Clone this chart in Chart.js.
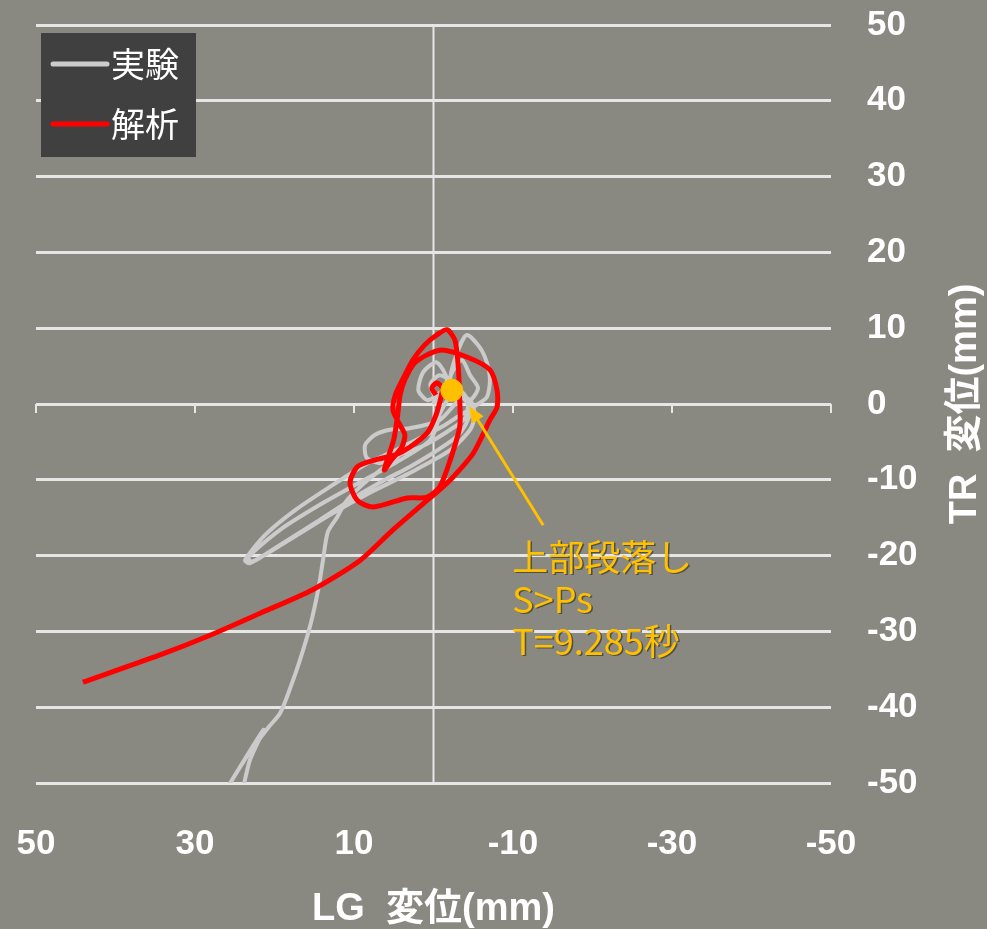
<!DOCTYPE html>
<html>
<head>
<meta charset="utf-8">
<script src="https://cdn.jsdelivr.net/npm/chart.js@4/dist/chart.umd.min.js"></script>
<style>
  html, body { margin: 0; padding: 0; background: #8a8981; }
  #wrap { width: 987px; height: 929px; }
</style>
</head>
<body>
<div id="wrap"><canvas id="chart"></canvas></div>
<script>
// LG / TR displacement orbit (mm), experiment vs analysis
const expX = [0.1, -0.8, -1.7, -0.4, 1.3, 1.9, 0.7, -1.4, -2.5, -3.6,
  -4.6, -5.6, -4.6, -3.1, -2.1, -3.1, -4.2, -5.8, -6.7, -7.1,
  -6.7, -5.0, -3.3, -1.4, 1.7, 4.8, 8.6, 13.0, 17.4, 21.2,
  23.7, 23.1, 19.3, 14.3, 9.9, 6.1, 3.0, -0.2, -2.7, -4.0,
  -4.6, -3.6, -0.8, 3.0, 5.5, 7.4, 8.6, 8.4, 6.7, 4.2,
  1.1, -2.1, -4.0, -4.3, -2.7, -0.8, 0.4, -0.8, 0.4, 4.2,
  9.2, 14.3, 19.3, 23.3, 22.8, 18.1, 13.0, 8.0, 3.0, -2.1,
  -4.6, -5.2, -4.6, -2.3, -1.4, 0.4, 4.2, 8.0, 9.9, 11.1,
  12.1, 13.3, 13.9, 14.5, 15.5, 16.8, 18.1, 19.3, 20.8, 23.1,
  26.1, 21.4, 23.1, 24.0];
const expY = [0, 1.2, 3.2, 5.5, 4.2, 1.8, 0.5, 2.1, 4.5, 5.8,
  3.8, 2.1, 0.5, 1.2, 3.2, 7.1, 9.1, 7.5, 5.5, 3.2,
  0.9, -0.4, -1.5, -2.8, -4.5, -6.1, -8.0, -10.9, -14.0, -17.3,
  -20.6, -21.0, -18.6, -15.3, -12.3, -10.0, -8.3, -6.3, -4.5, -2.8,
  -0.8, 0.8, -2.1, -3.2, -3.4, -4.1, -5.4, -7.1, -7.8, -6.7,
  -5.4, -3.4, -1.8, 0.5, 2.5, 3.8, 2.5, -0.8, -4.7, -7.4,
  -10.3, -13.3, -16.6, -20.2, -20.8, -17.9, -14.6, -11.7, -9.1, -6.1,
  -3.4, -1.5, 0.5, 1.2, -0.1, -3.4, -6.7, -9.8, -11.6, -13.0,
  -14.9, -16.9, -20.6, -24.5, -29.2, -33.8, -37.7, -40.8, -42.7, -45.9,
  -50.9, -43.0, -47.0, -50.9];

const anaX = [-0.3, 0.2, -0.4, -1.1, -0.8, -0.3, 0.7, 3.0, 4.8, 7.4,
  9.6, 10.5, 9.6, 7.6, 3.3, 0.8, -0.8, -2.1, -3.3, -3.3,
  -3.1, -2.7, -1.7, -0.4, 1.1, 2.6, 3.8, 4.8, 5.1, 4.2,
  3.6, 4.0, 5.3, 6.2, 5.0, 4.5, 4.2, 3.6, 2.3, -0.8,
  -4.2, -7.1, -8.0, -8.0, -7.1, -5.0, -2.5, -0.8, 0.8, 5.1,
  9.2, 15.2, 21.8, 28.1, 34.4, 44.1];
const anaY = [1.2, 2.1, 2.8, 2.1, 0.3, -1.5, -3.7, -5.7, -6.7, -7.4,
  -8.3, -10.4, -12.7, -13.6, -12.4, -12.3, -10.9, -7.4, -3.0, 0.5,
  5.1, 8.4, 9.8, 9.1, 7.8, 5.8, 3.4, 1.2, -0.8, -2.8,
  -4.1, -5.7, -7.4, -8.7, -4.7, -1.4, 1.2, 3.2, 5.5, 7.1,
  6.2, 4.5, 1.8, -0.4, -2.1, -6.5, -9.6, -11.3, -12.7, -16.6,
  -20.6, -24.5, -27.6, -30.5, -33.1, -36.7];

// state when the upper level drops (S>Ps)
const markX = [-2.3];
const markY = [1.8];

const xTicks = [50, 30, 10, -10, -30, -50];
const yTicks = [50, 40, 30, 20, 10, 0, -10, -20, -30, -40, -50];

const noteLines = ['上部段落し', 'S>Ps', 'T=9.285秒'];
const noteText = { x: -9.9, y: -20.2 };
const noteArrow = { fromX: -13.8, fromY: -16.0, toX: -4.5, toY: -0.3 };

const BG = '#8a8981';
const GRID = '#e6e6e6';
const ORANGE = '#ffc000';
const NUM_FONT = "'Liberation Sans', sans-serif";
const TITLE_FONT = "'Liberation Sans', 'Noto Sans CJK JP', sans-serif";
const JP_FONT = "'Noto Sans CJK JP', sans-serif";

const toPoints = (xs, ys) => xs.map((x, i) => ({ x: x, y: ys[i] }));

const frame = {
  id: 'frame',
  beforeDraw(chart) {
    const ctx = chart.ctx;
    ctx.save();
    ctx.fillStyle = BG;
    ctx.fillRect(0, 0, chart.width, chart.height);
    ctx.restore();
  },
  beforeDatasetsDraw(chart) {
    // axes crossing at 0: vertical line at x=0, tick marks on y=0
    const { ctx, chartArea: a, scales: { x, y } } = chart;
    const x0 = x.getPixelForValue(0);
    const y0 = y.getPixelForValue(0);
    ctx.save();
    ctx.strokeStyle = GRID;
    ctx.lineWidth = 2;
    ctx.beginPath();
    ctx.moveTo(x0, a.top);
    ctx.lineTo(x0, a.bottom);
    xTicks.forEach(v => {
      const px = x.getPixelForValue(v);
      ctx.moveTo(px, y0);
      ctx.lineTo(px, y0 + 9);
    });
    ctx.stroke();
    ctx.restore();
  },
  afterDatasetsDraw(chart) {
    const { ctx, chartArea: a, scales: { x, y } } = chart;
    ctx.save();

    // legend box
    const bx = a.left + 5, by = a.top + 8, bw = 155, bh = 124;
    ctx.fillStyle = '#404040';
    ctx.fillRect(bx, by, bw, bh);
    ctx.font = '34px ' + JP_FONT;
    ctx.textBaseline = 'middle';
    ctx.textAlign = 'left';
    chart.data.datasets.filter(d => d.inLegend).forEach((d, i) => {
      const ly = by + 31 + i * 60;
      ctx.strokeStyle = d.borderColor;
      ctx.lineWidth = 5;
      ctx.lineCap = 'round';
      ctx.beginPath();
      ctx.moveTo(bx + 12, ly);
      ctx.lineTo(bx + 66, ly);
      ctx.stroke();
      ctx.fillStyle = '#ffffff';
      ctx.fillText(d.label, bx + 70, ly);
    });

    // annotation arrow
    const fx = x.getPixelForValue(noteArrow.fromX), fy = y.getPixelForValue(noteArrow.fromY);
    const tx = x.getPixelForValue(noteArrow.toX), ty = y.getPixelForValue(noteArrow.toY);
    const ang = Math.atan2(ty - fy, tx - fx);
    ctx.strokeStyle = ORANGE;
    ctx.fillStyle = ORANGE;
    ctx.lineWidth = 3;
    ctx.lineCap = 'butt';
    ctx.beginPath();
    ctx.moveTo(fx, fy);
    ctx.lineTo(tx - 10 * Math.cos(ang), ty - 10 * Math.sin(ang));
    ctx.stroke();
    ctx.beginPath();
    ctx.moveTo(tx, ty);
    ctx.lineTo(tx - 16 * Math.cos(ang) + 7 * Math.sin(ang), ty - 16 * Math.sin(ang) - 7 * Math.cos(ang));
    ctx.lineTo(tx - 16 * Math.cos(ang) - 7 * Math.sin(ang), ty - 16 * Math.sin(ang) + 7 * Math.cos(ang));
    ctx.closePath();
    ctx.fill();

    // annotation text
    const nx = x.getPixelForValue(noteText.x), ny = y.getPixelForValue(noteText.y);
    ctx.font = '36px ' + JP_FONT;
    ctx.shadowColor = 'rgba(40,40,30,0.6)';
    ctx.shadowOffsetX = 1.5;
    ctx.shadowOffsetY = 1.5;
    noteLines.forEach((t, i) => ctx.fillText(t, nx, ny + i * 42));
    ctx.restore();
  },
  afterDraw(chart) {
    // right-hand axis title, reading bottom to top
    const { ctx, chartArea: a } = chart;
    ctx.save();
    ctx.translate(966, (a.top + a.bottom) / 2);
    ctx.rotate(-Math.PI / 2);
    ctx.font = 'bold 38px ' + TITLE_FONT;
    ctx.fillStyle = '#ffffff';
    ctx.textAlign = 'center';
    ctx.textBaseline = 'middle';
    ctx.fillText('TR  変位(mm)', 0, 0);
    ctx.restore();
  }
};

new Chart(document.getElementById('chart'), {
  type: 'scatter',
  data: {
    datasets: [
      {
        label: '実験',
        inLegend: true,
        data: toPoints(expX, expY),
        showLine: true,
        borderColor: '#cbcbcb',
        borderWidth: 4,
        pointRadius: 0,
        tension: 0.25,
        order: 2
      },
      {
        label: '解析',
        inLegend: true,
        data: toPoints(anaX, anaY),
        showLine: true,
        borderColor: '#ff0000',
        borderWidth: 5,
        pointRadius: 0,
        tension: 0.25,
        order: 1
      },
      {
        label: 'T=9.285秒',
        data: toPoints(markX, markY),
        backgroundColor: ORANGE,
        borderColor: ORANGE,
        pointRadius: 11,
        order: 0
      }
    ]
  },
  options: {
    responsive: true,
    maintainAspectRatio: false,
    animation: false,
    devicePixelRatio: 1,
    layout: { padding: { left: 36, top: 25, right: 0, bottom: 0 } },
    plugins: {
      legend: { display: false },
      tooltip: { enabled: false }
    },
    scales: {
      x: {
        type: 'linear',
        min: -50,
        max: 50,
        reverse: true,
        afterBuildTicks: s => { s.ticks = xTicks.map(v => ({ value: v })); },
        afterFit: s => { s.height = 146; },
        // the crossing line at x=0 is drawn by the plugin; ticks here only space the labels
        grid: { color: 'transparent', drawTicks: true, tickLength: 40, tickColor: 'transparent' },
        border: { display: false },
        ticks: {
          color: '#ffffff',
          padding: 0,
          maxRotation: 0,
          font: { family: NUM_FONT, size: 35, weight: 'bold' }
        },
        title: {
          display: true,
          text: 'LG  変位(mm)',
          color: '#ffffff',
          padding: { top: 0, bottom: -3 },
          font: { family: TITLE_FONT, size: 38, weight: 'bold' }
        }
      },
      y: {
        type: 'linear',
        position: 'right',
        min: -50,
        max: 50,
        afterBuildTicks: s => { s.ticks = yTicks.map(v => ({ value: v })); },
        afterFit: s => { s.width = 156; },
        grid: { color: GRID, lineWidth: 3, drawTicks: true, tickLength: 36, tickColor: 'transparent' },
        border: { display: false },
        ticks: {
          color: '#ffffff',
          padding: 0,
          font: { family: NUM_FONT, size: 35, weight: 'bold' }
        }
      }
    }
  },
  plugins: [frame]
});
</script>
</body>
</html>
